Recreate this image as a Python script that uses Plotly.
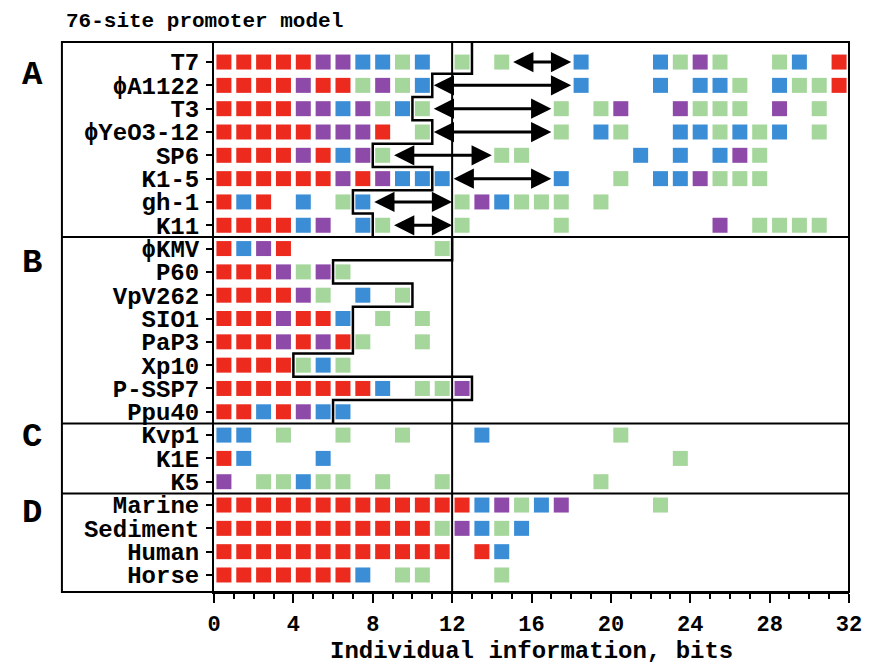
import plotly.graph_objects as go

# ---------------- data ----------------
rows = ["T7", "ϕA1122", "T3", "ϕYeO3-12", "SP6", "K1-5", "gh-1", "K11",
        "ϕKMV", "P60", "VpV262", "SIO1", "PaP3", "Xp10", "P-SSP7", "Ppu40",
        "Kvp1", "K1E", "K5",
        "Marine", "Sediment", "Human", "Horse"]

# one character per 1-bit bin (R=red, P=purple, B=blue, G=green, .=empty)
sites = [
    "RRRRRPPBBGB.G.G...B...BGPG..GB.R",
    "RRRRPRRGPGB.......B...B.BBG.BGGR",
    "RRRRPPBPGBG......G.GP..PGGG.P.G",
    "RRRRRPPPR.G......G.BG..BBGBGB.G",
    "RRRRPRBPG.....GG.....B.B.BPG",
    "RRRRRRPRPBBB.....B..G.BBPGGG",
    "RBR.B.GB....GPBGGG.G",
    "RRRRBP.BG...G....G.......P.GGGG",
    "RBPR.......G",
    "RRRPGPG",
    "RRRRPG.B.G",
    "RRRPRRB.G.G",
    "RRRPRPRG..G",
    "RRRRGBG",
    "RRRRRRRRB.GGP",
    "RRBRPBB",
    "BB.G..G..G...B......G",
    "RB...B.................G",
    "P.GGBGG.G..G.......G",
    "RRRRRRRRRRRRRBPGBP....G",
    "RRRRRRRRRRRGPBGB",
    "RRRRRRRRRRRR.RB",
    "RRRRRRRB.GG...G",
]

section_letters = ["A", "B", "C", "D"]

groupA_rows = ["T7", "ϕA1122", "T3", "ϕYeO3-12", "SP6", "K1-5", "gh-1", "K11"]
groupA_cut = [13, 11, 10, 11, 8, 11, 7, 8]
groupB_rows = ["ϕKMV", "P60", "VpV262", "SIO1", "PaP3", "Xp10", "P-SSP7", "Ppu40"]
groupB_cut = [12, 6, 10, 7, 7, 4, 13, 6]

arrow_rows = ["T7", "ϕA1122", "T3", "ϕYeO3-12", "SP6", "K1-5", "gh-1", "K11"]
arrow_from = [15, 11, 11, 11, 9, 12, 8, 9]
arrow_to = [18, 18, 17, 17, 14, 17, 12, 12]

threshold_bits = 12
x_ticks = [0, 4, 8, 12, 16, 20, 24, 28, 32]

colors = {"R": "#EC2A1E", "P": "#8E4AA8", "B": "#3B8ED6", "G": "#A5D69B"}

# ---------------- figure ----------------
# page body has an 8px margin, so the figure is laid out 8px up/left
W, H = 866, 657
ML, MR, MT, MB = 206, 17, 34, 73
plot_w = W - ML - MR
plot_h = H - MT - MB
Y_TOP, Y_BOT = -0.86, 22.73

FONT = "Liberation Mono, Courier New, monospace"

fig = go.Figure()

for code, col in colors.items():
    xs, ys = [], []
    for i, s in enumerate(sites):
        for j, c in enumerate(s):
            if c == code:
                xs.append(j + 0.5)
                ys.append(i)
    fig.add_trace(go.Scatter(x=xs, y=ys, mode="markers",
                             marker=dict(symbol="square", size=15, color=col,
                                         line=dict(width=0)),
                             hoverinfo="skip", showlegend=False))


def stair(names, cuts, top):
    idx = [rows.index(n) for n in names]
    xs, ys = [cuts[0]], [top]
    for k, (r, c) in enumerate(zip(idx, cuts)):
        xs.append(c)
        ys.append(r + 0.5)
        if k < len(cuts) - 1:
            xs.append(cuts[k + 1])
            ys.append(r + 0.5)
    return xs, ys


for names, cuts, top in [(groupA_rows, groupA_cut, Y_TOP),
                         (groupB_rows, groupB_cut, rows.index(groupB_rows[0]) - 0.5)]:
    xs, ys = stair(names, cuts, top)
    fig.add_trace(go.Scatter(x=xs, y=ys, mode="lines",
                             line=dict(color="black", width=2.5),
                             hoverinfo="skip", showlegend=False))

shapes = []
frame_left = (52 - ML) / plot_w
shapes.append(dict(type="rect", xref="paper", yref="paper", x0=frame_left, x1=1,
                   y0=0, y1=1, line=dict(color="black", width=2)))
for b in [7.5, 15.5, 18.5]:
    shapes.append(dict(type="line", xref="paper", yref="y", x0=frame_left, x1=1,
                       y0=b, y1=b, line=dict(color="black", width=2)))
shapes.append(dict(type="line", xref="x", yref="paper", x0=threshold_bits,
                   x1=threshold_bits, y0=0, y1=1, line=dict(color="black", width=2)))

annotations = []
for name, a, b in zip(arrow_rows, arrow_from, arrow_to):
    r = rows.index(name)
    annotations.append(dict(x=b, y=r, ax=a, ay=r, xref="x", yref="y",
                            axref="x", ayref="y", text="", showarrow=True,
                            arrowhead=2, startarrowhead=2, arrowside="end+start",
                            arrowwidth=3, arrowsize=1.35, startarrowsize=1.35,
                            arrowcolor="black", standoff=0, startstandoff=0))

letter_y = [0.55, 8.6, 16.1, 19.35]
for L, yy in zip(section_letters, letter_y):
    annotations.append(dict(text=L, xref="paper", yref="y", x=(22 - ML) / plot_w,
                            y=yy, showarrow=False, xanchor="center", yanchor="middle",
                            font=dict(family=FONT, size=34, color="black", weight="bold")))

annotations.append(dict(text="76-site promoter model", xref="paper", yref="paper",
                        x=(54 - ML) / plot_w, y=1 + (MT - 13) / plot_h,
                        xanchor="left", yanchor="middle", showarrow=False,
                        font=dict(family=FONT, size=21, color="black", weight="bold")))
annotations.append(dict(text="Individual information, bits", xref="paper", yref="paper",
                        x=0.5, y=-(643 - (MT + plot_h)) / plot_h,
                        xanchor="center", yanchor="middle", showarrow=False,
                        font=dict(family=FONT, size=24, color="black", weight="bold")))

fig.update_layout(
    width=W, height=H,
    margin=dict(l=ML, r=MR, t=MT, b=MB),
    paper_bgcolor="white", plot_bgcolor="white",
    shapes=shapes, annotations=annotations,
    font=dict(family=FONT, color="black"),
)
fig.update_xaxes(range=[0, 32], tickvals=x_ticks, ticks="outside", ticklen=9,
                 tickwidth=2, tickcolor="black", showline=True, linecolor="black",
                 linewidth=2, showgrid=False, zeroline=False,
                 ticklabelstandoff=2,
                 tickfont=dict(family=FONT, size=22, color="black", weight="bold"),
                 minor=dict(dtick=1, tick0=0, ticks="outside", ticklen=5,
                            tickwidth=1.5, tickcolor="black", showgrid=False))
fig.update_yaxes(range=[Y_BOT, Y_TOP], tickvals=list(range(len(rows))), ticktext=rows,
                 ticks="outside", ticklen=6, tickwidth=2, tickcolor="black",
                 showline=True, linecolor="black", linewidth=2, showgrid=False,
                 zeroline=False, ticklabelstandoff=2,
                 tickfont=dict(family=FONT, size=24, color="black", weight="bold"))

fig.write_html("out.html")
